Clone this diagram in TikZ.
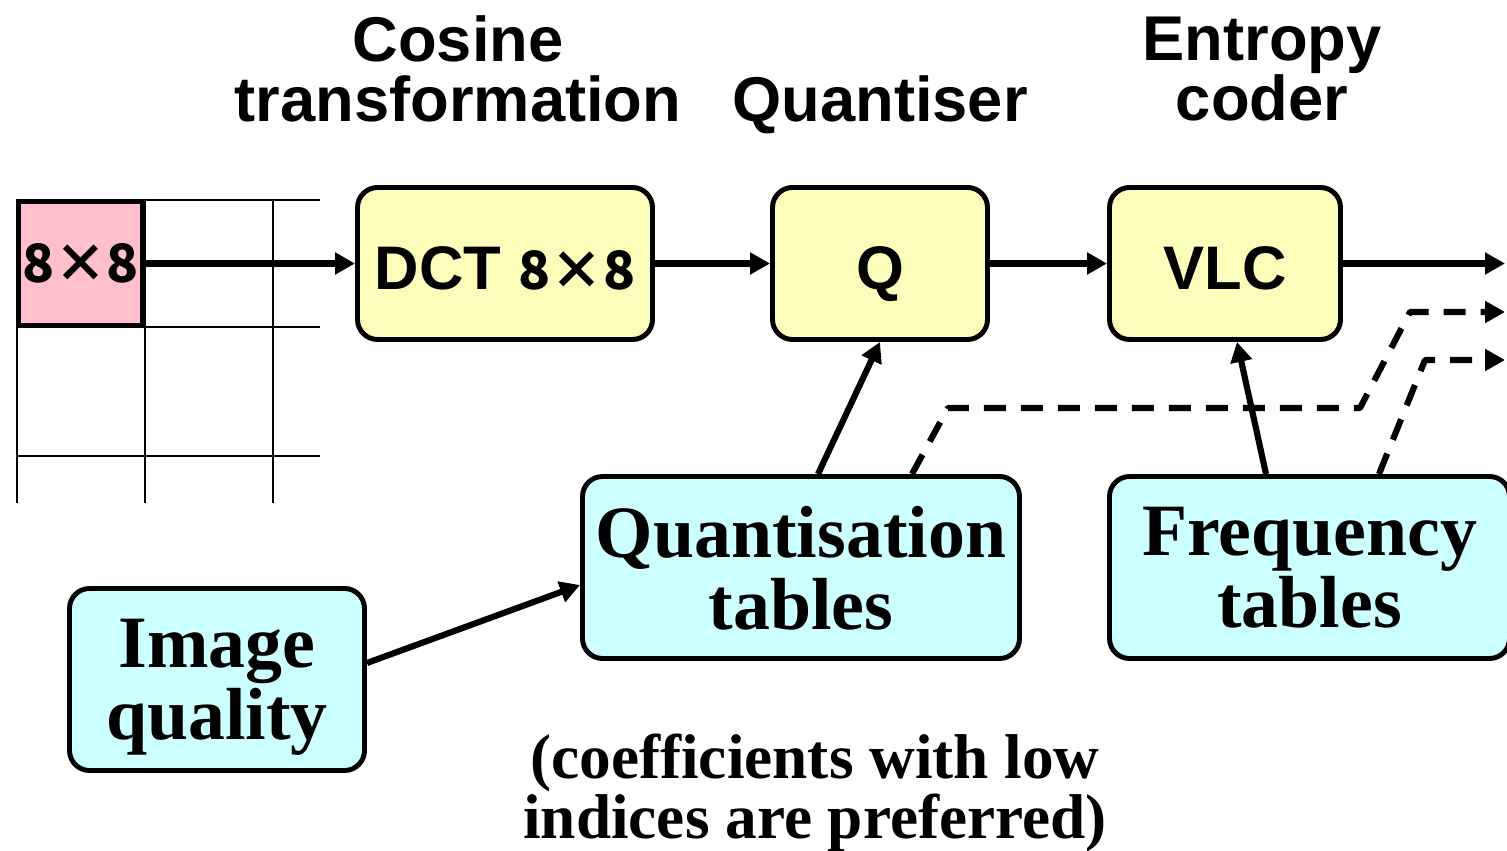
\documentclass[tikz,border=0pt]{standalone}
\usepackage{fontspec}
\setmainfont{Liberation Serif}
\setsansfont{Liberation Sans}
\newfontfamily\cjkfont{Noto Sans CJK JP}
\usetikzlibrary{arrows.meta}

\definecolor{stageyellow}{RGB}{252,252,187}
\definecolor{tablecyan}{RGB}{204,255,255}
\definecolor{blockpink}{RGB}{255,192,203}

\begin{document}
\begin{tikzpicture}[
    stage/.style={rectangle, rounded corners=0.4cm, draw=black, fill=stageyellow, line width=2.8pt, minimum height=3.04cm, text height=1.06cm, text depth=0pt, font=\fontsize{35}{35}\selectfont\sffamily\bfseries},
    tablebox/.style={rectangle, rounded corners=0.4cm, draw=black, fill=tablecyan, line width=2.8pt, minimum height=3.64cm, align=center, text depth=-0.32cm, font=\fontsize{42}{41}\selectfont\bfseries},
    title/.style={align=center, font=\fontsize{36}{34}\selectfont\sffamily\bfseries},
    note/.style={align=center, font=\fontsize{36}{34}\selectfont\bfseries},
    arrow/.style={-{Triangle[length=0.4cm, width=0.42cm]}, line width=3.5pt},
    feed/.style={arrow, dash pattern=on 0.44cm off 0.3cm, line join=round},
    grid line/.style={line width=1.1pt}
]
\useasboundingbox (0,0) rectangle (30.14,17);

% Titles
\node[title] (t_dct) at (9.16,15.62) {Cosine\\transformation};
\node[title, anchor=base] (t_q) at (17.6,14.56) {Quantiser};
\node[title] (t_vlc) at (25.24,15.62) {Entropy\\coder};

% Image grid
\foreach \x in {0.34,2.90,5.46}
    \draw[grid line] (\x,13.0) -- (\x,6.94);
\foreach \y in {13.0,10.46,7.88}
    \draw[grid line] (0.34,\y) -- (6.4,\y);
\node[draw, line width=2.8pt, fill=blockpink, minimum width=2.48cm, minimum height=2.48cm, inner sep=0pt, font=\fontsize{30}{30}\selectfont\cjkfont\bfseries] (blk) at (1.61,11.73) {8×8};

% Coder stages
\node[stage, minimum width=5.9cm] (dct) at (10.10,11.73) {DCT {\cjkfont\fontsize{30}{30}\selectfont 8×8}};
\node[stage, minimum width=4.3cm] (q) at (17.6,11.73) {Q};
\node[stage, minimum width=4.62cm] (vlc) at (24.5,11.73) {VLC};

% Tables
\node[tablebox, minimum width=8.74cm] (qt) at (16.02,5.65) {Quantisation\\tables};
\node[tablebox, minimum width=8.0cm] (ft) at (26.19,5.65) {Frequency\\tables};
\node[tablebox, minimum width=5.9cm] (iq) at (4.34,3.41) {Image\\quality};

% Note
\node[note] (pref) at (16.3,1.14) {(coefficients with low\\indices are preferred)};

% Outputs
\coordinate (out0) at (30.1,11.73);
\coordinate (out1) at (30.1,10.76);
\coordinate (out2) at (30.1,9.8);

% Main flow
\draw[arrow] (blk) -- (dct);
\draw[arrow] (dct) -- (q);
\draw[arrow] (q) -- (vlc);
\draw[arrow] (vlc) -- (out0);

% Table inputs
\draw[arrow] ([yshift=0.33cm]iq.east) -- ([yshift=-0.35cm]qt.west);
\draw[arrow] ([xshift=0.34cm]qt.north) -- (q.south);
\draw[arrow] ([xshift=-0.87cm]ft.north) -- ([xshift=0.24cm]vlc.south);

% Tables passed on
\draw[feed] ([xshift=2.22cm]qt.north) -- (18.96,8.84) -- (27.2,8.84) -- (28.2,10.76) -- (out1);
\draw[feed] ([xshift=1.39cm]ft.north) -- (28.5,9.8) -- (out2);

\end{tikzpicture}
\end{document}
